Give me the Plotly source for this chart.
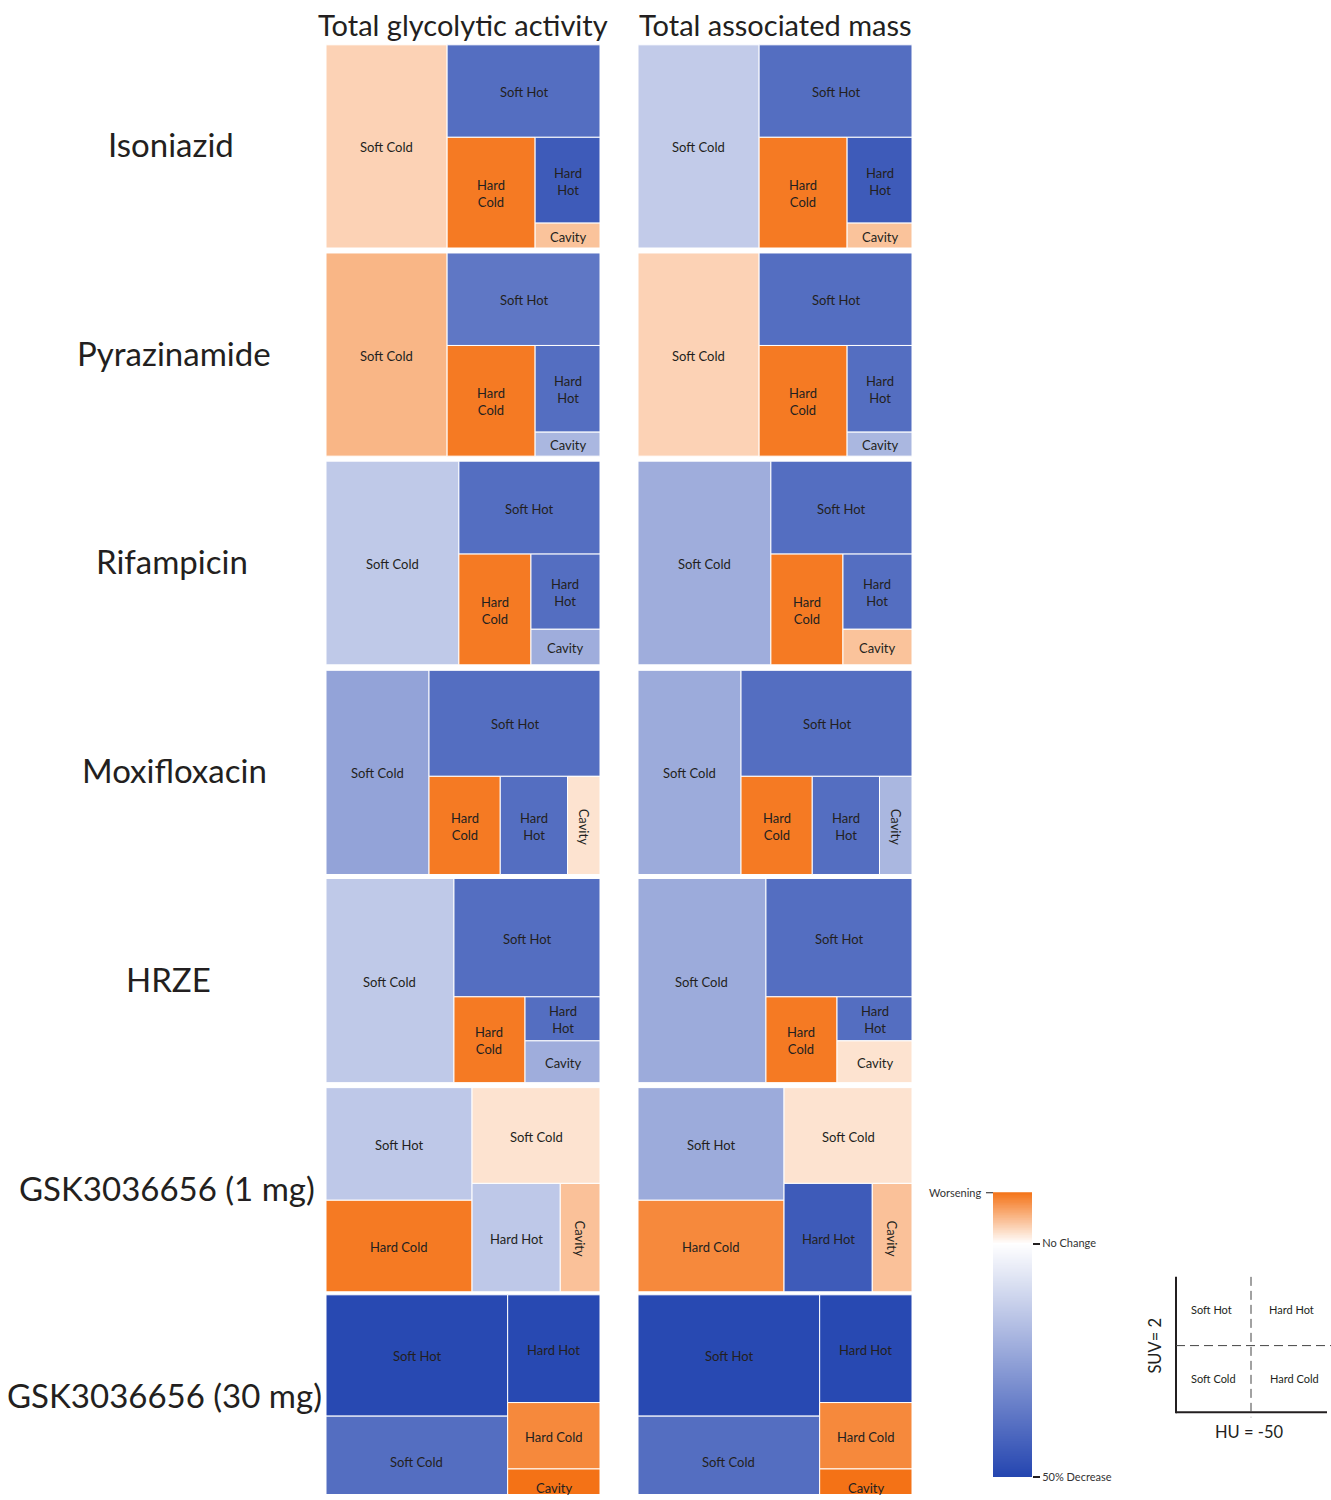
import numpy as np
import plotly.graph_objects as go
from plotly.colors import sample_colorscale

# ---------------------------------------------------------------- data
drugs = ["Isoniazid", "Pyrazinamide", "Rifampicin", "Moxifloxacin", "HRZE",
         "GSK3036656 (1 mg)", "GSK3036656 (30 mg)"]
regions = ["Soft Cold", "Soft Hot", "Hard Cold", "Hard Hot", "Cavity"]
metrics = ["Total glycolytic activity", "Total associated mass"]

# share of total lesion volume (%) of each region, one entry per drug
share_soft_cold = [44.2, 44.2, 48.5, 37.6, 46.7, 21.9, 28.2]
share_soft_hot = [25.4, 25.4, 23.5, 32.4, 30.9, 29.4, 38.1]
share_hard_cold = [17.5, 17.5, 14.3, 12.5, 10.9, 23.9, 10.6]
share_hard_hot = [10.0, 10.1, 9.3, 11.8, 5.9, 17.1, 17.2]
share_cavity = [2.9, 2.8, 4.4, 5.7, 5.6, 7.7, 5.9]

# change (%) in total glycolytic activity, one entry per drug
glyco_soft_cold = [3.5, 5.7, -14.6, -24.7, -14.6, 2.2, -39.0]
glyco_soft_hot = [-39.0, -36.5, -39.0, -39.0, -39.0, -14.8, -49.0]
glyco_hard_cold = [10.4, 10.4, 10.4, 10.4, 10.4, 10.4, 9.2]
glyco_hard_hot = [-44.0, -39.0, -39.0, -39.0, -39.0, -14.8, -49.0]
glyco_cavity = [4.7, -19.4, -22.0, 2.2, -22.0, 4.8, 11.0]

# change (%) in total associated mass, one entry per drug
mass_soft_cold = [-14.0, 3.5, -22.0, -22.5, -22.5, 2.2, -39.0]
mass_soft_hot = [-39.0, -39.0, -39.0, -39.0, -39.0, -22.5, -49.0]
mass_hard_cold = [10.4, 10.4, 10.4, 10.4, 10.4, 9.2, 9.2]
mass_hard_hot = [-44.0, -39.0, -39.0, -39.0, -39.0, -44.0, -49.0]
mass_cavity = [4.7, -19.4, 4.7, -19.4, 2.2, 4.8, 11.0]

# "Hard" labels written on two lines for these drugs
stacked_labels = [True, True, True, True, True, False, False]

colorbar_labels = ["Worsening", "No Change", "50% Decrease"]
change_min, change_max = -50.0, 11.0

quadrant_labels = ["Soft Hot", "Hard Hot", "Soft Cold", "Hard Cold"]
quadrant_axes = ["SUV= 2", "HU = -50"]

# ---------------------------------------------------------------- style
INK = "#231F20"
FONT = "Lato, 'Open Sans', sans-serif"
W_PAGE, H_PAGE = 1331, 1500
COLORSCALE = [[0.0, "#2445B0"],
              [(0 - change_min) / (change_max - change_min), "#FFFFFF"],
              [1.0, "#F47216"]]

col_x = [(326, 600), (638, 912)]
row_y = [(45, 249), (254, 458), (463, 667.5), (673, 878),
         (882, 1087), (1092, 1297), (1300, 1512)]
row_label_x = [171, 174, 172, 174, 168.5, 167, 164]


def change_color(v):
    t = (min(max(v, change_min), change_max) - change_min) / (change_max - change_min)
    return sample_colorscale(COLORSCALE, [t], colortype="rgb")[0]


def squarify(values, x0, y0, x1, y1):
    """Squarified treemap tiling (values already sorted, largest first)."""
    rects = []
    total = float(sum(values))
    n = len(values)
    i0 = 0
    while i0 < n:
        dx, dy = x1 - x0, y1 - y0
        i1 = i0 + 1
        s = vmin = vmax = values[i0]
        alpha = max(dy / dx, dx / dy) / total
        beta = s * s * alpha
        best = max(vmax / beta, beta / vmin)
        while i1 < n:
            v = values[i1]
            s2 = s + v
            lo, hi = min(vmin, v), max(vmax, v)
            beta = s2 * s2 * alpha
            r = max(hi / beta, beta / lo)
            if r > best:
                break
            s, vmin, vmax, best = s2, lo, hi, r
            i1 += 1
        row = values[i0:i1]
        if dx < dy:  # horizontal band along the top
            h = dy * s / total
            cx = x0
            for v in row:
                w = dx * v / s
                rects.append((cx, y0, cx + w, y0 + h))
                cx += w
            y0 += h
        else:  # vertical strip along the left
            w = dx * s / total
            cy = y0
            for v in row:
                h = dy * v / s
                rects.append((x0, cy, x0 + w, cy + h))
                cy += h
            x0 += w
        total -= s
        i0 = i1
    return rects


def tile_label(name, w, h, stacked):
    if name.startswith("Hard") and stacked:
        return name.replace(" ", "<br>"), 0
    if w < 45 and h > 1.5 * w:
        return name, 90
    return name, 0


share_cols = [share_soft_cold, share_soft_hot, share_hard_cold, share_hard_hot, share_cavity]
change_sets = [
    [glyco_soft_cold, glyco_soft_hot, glyco_hard_cold, glyco_hard_hot, glyco_cavity],
    [mass_soft_cold, mass_soft_hot, mass_hard_cold, mass_hard_hot, mass_cavity],
]

fig = go.Figure()
shapes, annotations = [], []
tile_font = dict(family=FONT, size=13, color=INK)

for i, drug in enumerate(drugs):
    shares = [c[i] for c in share_cols]
    order = sorted(range(len(regions)), key=lambda k: -shares[k])
    ry0, ry1 = row_y[i]
    for j, cols in enumerate(change_sets):
        cx0, cx1 = col_x[j]
        rects = squarify([shares[k] for k in order], cx0, ry0, cx1, ry1)
        for k, (a0, b0, a1, b1) in zip(order, rects):
            shapes.append(dict(type="rect", xref="x", yref="y",
                               x0=a0, y0=b0, x1=a1, y1=b1,
                               fillcolor=change_color(cols[k][i]),
                               line=dict(color="white", width=1), layer="below"))
            text, angle = tile_label(regions[k], a1 - a0, b1 - b0, stacked_labels[i])
            annotations.append(dict(x=(a0 + a1) / 2, y=(b0 + b1) / 2 + 1, xref="x", yref="y",
                                    text=text, textangle=angle, showarrow=False,
                                    font=tile_font))
    # drug name to the left of the row
    annotations.append(dict(x=row_label_x[i], y=(ry0 + min(ry1, 1506)) / 2 - 2,
                            xref="x", yref="y", text=drug, showarrow=False,
                            font=dict(family=FONT, size=33, color=INK)))

for j, metric in enumerate(metrics):
    annotations.append(dict(x=sum(col_x[j]) / 2, y=25, xref="x", yref="y", text=metric,
                            showarrow=False, font=dict(family=FONT, size=29, color=INK)))

# ---------------------------------------------------------------- colour bar
cb_top, cb_bottom = 1197, 1483
cb_vals = np.linspace(change_min, change_max, 400)
fig.add_trace(go.Heatmap(z=[[v] for v in cb_vals], x=[0], y=cb_vals,
                         colorscale=COLORSCALE, zmin=change_min, zmax=change_max,
                         showscale=False, hoverinfo="skip", xaxis="x2", yaxis="y2"))
shapes.append(dict(type="line", xref="x2 domain", yref="y2", x0=-0.18, x1=0,
                   y0=change_max, y1=change_max, line=dict(color=INK, width=2)))
annotations.append(dict(xref="x2 domain", yref="y2", x=-0.25, y=change_max,
                        xanchor="right", text=colorbar_labels[0], showarrow=False,
                        font=dict(family=FONT, size=11, color="#333333")))

# ---------------------------------------------------------------- quadrant key
qx0, qx1, qxm = 1176, 1327, 1251
qy0, qy1, qym = 1282, 1418, 1351
shapes += [
    dict(type="line", xref="x", yref="y", x0=qx0, x1=qx0, y0=qy0, y1=qy1 + 1,
         line=dict(color=INK, width=2)),
    dict(type="line", xref="x", yref="y", x0=qx0, x1=qx1, y0=qy1, y1=qy1,
         line=dict(color=INK, width=2)),
    dict(type="line", xref="x", yref="y", x0=qxm, x1=qxm, y0=qy0, y1=qy1 + 5,
         line=dict(color="#444444", width=1, dash="9px,5px")),
    dict(type="line", xref="x", yref="y", x0=qx0, x1=W_PAGE, y0=qym, y1=qym,
         line=dict(color="#444444", width=1, dash="9px,5px")),
]
qpos = [(1211, 1315), (1291, 1315), (1213, 1384), (1294, 1384)]
for lab, (qx, qy) in zip(quadrant_labels, qpos):
    annotations.append(dict(x=qx, y=qy, xref="x", yref="y", text=lab, showarrow=False,
                            font=dict(family=FONT, size=11, color=INK)))
annotations.append(dict(x=1155, y=qym, xref="x", yref="y", text=quadrant_axes[0],
                        textangle=-90, showarrow=False,
                        font=dict(family=FONT, size=16.5, color=INK)))
annotations.append(dict(x=1249, y=1438, xref="x", yref="y", text=quadrant_axes[1],
                        showarrow=False, font=dict(family=FONT, size=16.5, color=INK)))

fig.update_layout(
    width=W_PAGE, height=H_PAGE,
    margin=dict(l=0, r=0, t=0, b=0),
    paper_bgcolor="white", plot_bgcolor="white",
    showlegend=False, hovermode=False,
    xaxis=dict(range=[0, W_PAGE], domain=[0, 1], visible=False, fixedrange=True),
    yaxis=dict(range=[H_PAGE, 0], domain=[0, 1], visible=False, fixedrange=True),
    xaxis2=dict(domain=[993 / W_PAGE, 1032 / W_PAGE], range=[-0.5, 0.5], anchor="y2",
                visible=False, fixedrange=True),
    yaxis2=dict(domain=[1 - cb_bottom / H_PAGE, 1 - cb_top / H_PAGE],
                range=[change_min, change_max],
                anchor="x2", side="right", showgrid=False, zeroline=False, showline=False,
                tickmode="array", tickvals=[0, change_min],
                ticktext=colorbar_labels[1:], ticks="outside", ticklen=7, tickwidth=2,
                tickcolor=INK, tickfont=dict(family=FONT, size=11, color="#333333"),
                fixedrange=True),
    shapes=shapes,
    annotations=annotations,
)

fig.write_html("out.html")
